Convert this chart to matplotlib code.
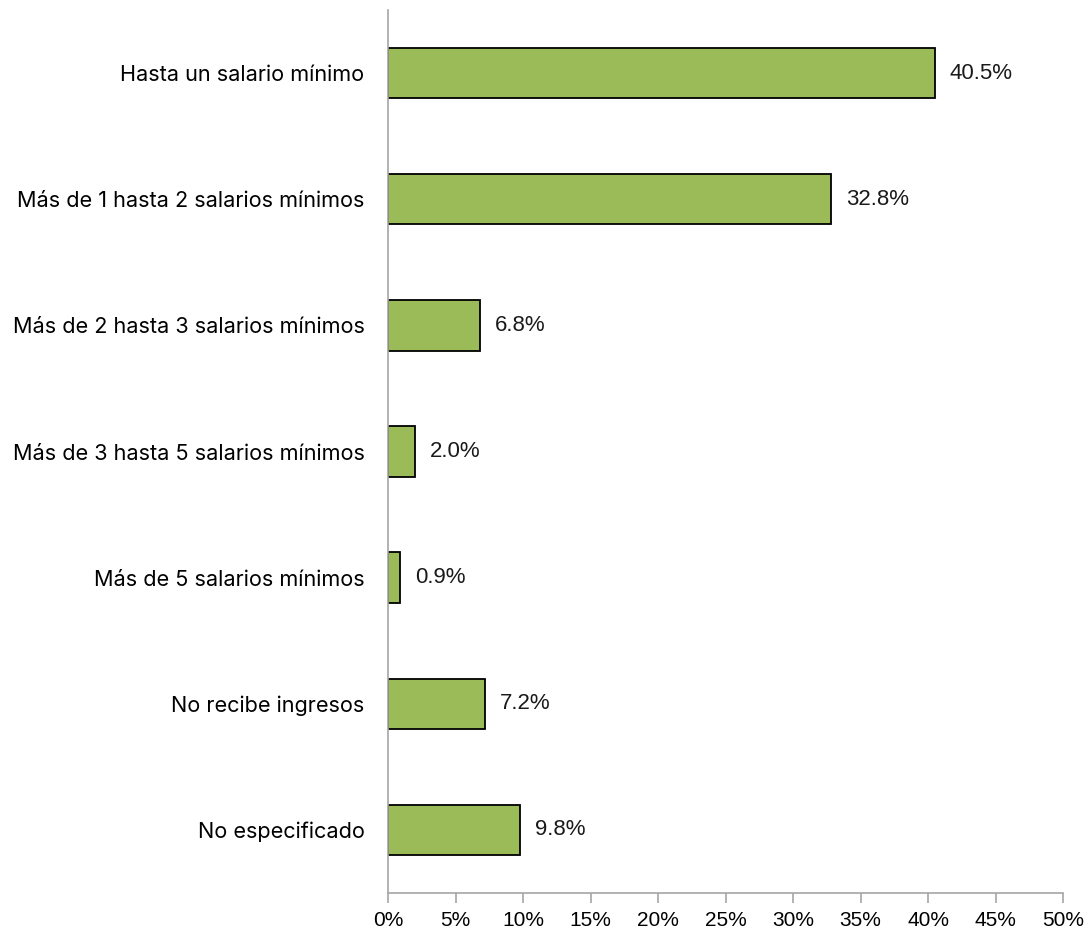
import matplotlib.pyplot as plt
import numpy as np

categorias = ['Hasta un salario mínimo',
              'Más de 1 hasta 2 salarios mínimos',
              'Más de 2 hasta 3 salarios mínimos',
              'Más de 3 hasta 5 salarios mínimos',
              'Más de 5 salarios mínimos',
              'No recibe ingresos',
              'No especificado']
porcentajes = [40.5, 32.8, 6.8, 2.0, 0.9, 7.2, 9.8]
ticks = [0, 5, 10, 15, 20, 25, 30, 35, 40, 45, 50]

fig = plt.figure(figsize=(10.9, 9.34), dpi=100)
ax = fig.add_axes([388/1090, 1 - 893/934, (1063 - 388)/1090, (893 - 10)/934])

y = np.arange(len(categorias))
ax.barh(y, porcentajes, height=0.4, color='#9bbb59', edgecolor='black', linewidth=1.3)

for yi, v in zip(y, porcentajes):
    ax.text(v + 1.1, yi, '%.1f%%' % v, va='center', ha='left',
            fontsize=16, family='Liberation Sans', color='#1a1a1a')

ax.set_xlim(0, 50)
ax.set_ylim(len(categorias) - 0.5, -0.5)
ax.set_xticks(ticks)
ax.set_xticklabels(['%d%%' % t for t in ticks], fontsize=15, family='Liberation Sans')
ax.set_yticks(y)
ax.set_yticklabels(categorias, fontsize=15.6, family='Inter')
ax.tick_params(axis='y', length=0, pad=17)
ax.tick_params(axis='x', length=7, color='#a6a6a6', width=1.2, pad=6)

for s in ['top', 'right']:
    ax.spines[s].set_visible(False)
for s in ['left', 'bottom']:
    ax.spines[s].set_color('#a6a6a6')
    ax.spines[s].set_linewidth(1.2)

fig.savefig('out.png', dpi=100)
